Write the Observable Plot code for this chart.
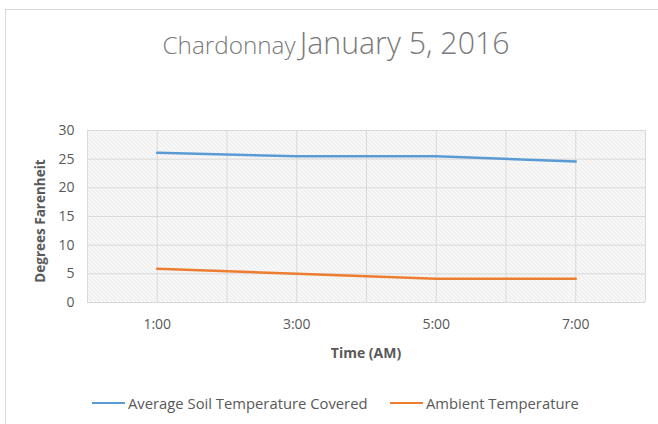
<!DOCTYPE html>
<html>
<head>
<meta charset="utf-8">
<script src="https://cdn.jsdelivr.net/npm/d3@7"></script>
<script src="https://cdn.jsdelivr.net/npm/@observablehq/plot@0.6"></script>
<style>
  body { margin: 0; background: #fff; width: 658px; height: 424px; overflow: hidden; position: relative; font-family: "Open Sans", sans-serif; }
  #box { position: absolute; left: 5px; top: 9px; width: 660px; height: 430px; border-top: 1px solid #d9d9d9; border-left: 1px solid #d9d9d9; }
  #title { position: absolute; left: 0; width: 672px; top: 22px; text-align: center; color: #7a7a7a; white-space: nowrap; font-weight: 300; }
  #title .a { font-size: 24.3px; }
  #title .b { font-size: 30.3px; }
  #chart { position: absolute; left: 0; top: 110px; }
  #xlabel { position: absolute; left: 87px; width: 558px; top: 343px; text-align: center; font-size: 14px; font-weight: bold; color: #595959; }
  #ylabel { position: absolute; left: 40px; top: 221px; transform: translate(-50%, -50%) rotate(-90deg); font-size: 13.5px; font-weight: bold; color: #595959; white-space: nowrap; }
  .leg { position: absolute; top: 393px; font-size: 14.8px; color: #595959; white-space: nowrap; display: flex; align-items: center; }
  .leg i { display: inline-block; width: 33px; height: 2.5px; margin-right: 3px; }
</style>
</head>
<body>
<div id="box"></div>
<div id="title"><span class="a">Chardonnay</span> <span class="b">January 5, 2016</span></div>
<div id="chart"></div>
<div id="xlabel"></div>
<div id="ylabel"></div>
<div id="legend"></div>
<script>
const titleText = "Chardonnay January 5, 2016";
const times = ["1:00", "3:00", "5:00", "7:00"];
const soil = [26.1, 25.5, 25.5, 24.6];
const ambient = [5.9, 5.0, 4.15, 4.15];
const seriesNames = ["Average Soil Temperature Covered", "Ambient Temperature"];
const seriesColors = ["#5B9BD5", "#ED7D31"];
const yTicks = [0, 5, 10, 15, 20, 25, 30];
const xLabel = "Time (AM)";
const yLabel = "Degrees Farenheit";

document.getElementById("xlabel").textContent = xLabel;
document.getElementById("ylabel").textContent = yLabel;

const rows = [];
times.forEach((t, i) => {
  rows.push({pos: i + 0.5, time: t, value: soil[i], series: seriesNames[0]});
  rows.push({pos: i + 0.5, time: t, value: ambient[i], series: seriesNames[1]});
});
const halfTicks = d3.range(0, times.length + 0.01, 0.5);

const plot = Plot.plot({
  width: 658,
  height: 260,
  marginLeft: 87,
  marginRight: 13,
  marginTop: 20,
  marginBottom: 68,
  style: {fontFamily: "'Open Sans', sans-serif", fontSize: "14px", color: "#595959", background: "transparent"},
  x: {domain: [0, times.length], label: null},
  y: {domain: [0, 30], label: null},
  color: {domain: seriesNames, range: seriesColors},
  marks: [
    Plot.frame({fill: "url(#hatch)", stroke: null}),
    Plot.gridX(halfTicks, {stroke: "#d9d9d9", strokeOpacity: 1}),
    Plot.gridY(yTicks, {stroke: "#d9d9d9", strokeOpacity: 1}),
    Plot.axisY(yTicks, {tickSize: 0, tickPadding: 13, fontSize: 14, fill: "#595959", label: null}),
    Plot.axisX(times.map((t, i) => i + 0.5), {tickSize: 0, tickPadding: 17, fontSize: 14, fill: "#595959", label: null, tickFormat: d => times[Math.floor(d)]}),
    Plot.line(rows, {x: "pos", y: "value", z: "series", stroke: "series", strokeWidth: 2.5})
  ]
});

const ns = "http://www.w3.org/2000/svg";
const defs = document.createElementNS(ns, "defs");
defs.innerHTML = '<pattern id="hatch" patternUnits="userSpaceOnUse" width="4" height="4"><rect width="4" height="4" fill="#ffffff"/><path d="M-1,-1 L5,5 M-1,3 L1,5 M3,-1 L5,1" stroke="#e3e3e3" stroke-width="1.1"/></pattern>';
plot.insertBefore(defs, plot.firstChild);
document.getElementById("chart").appendChild(plot);

const legend = document.getElementById("legend");
const legLeft = [92, 390];
seriesNames.forEach((n, i) => {
  const d = document.createElement("div");
  d.className = "leg";
  d.style.left = legLeft[i] + "px";
  d.innerHTML = `<i style="background:${seriesColors[i]}"></i><span></span>`;
  d.querySelector("span").textContent = n;
  legend.appendChild(d);
});
</script>
</body>
</html>
